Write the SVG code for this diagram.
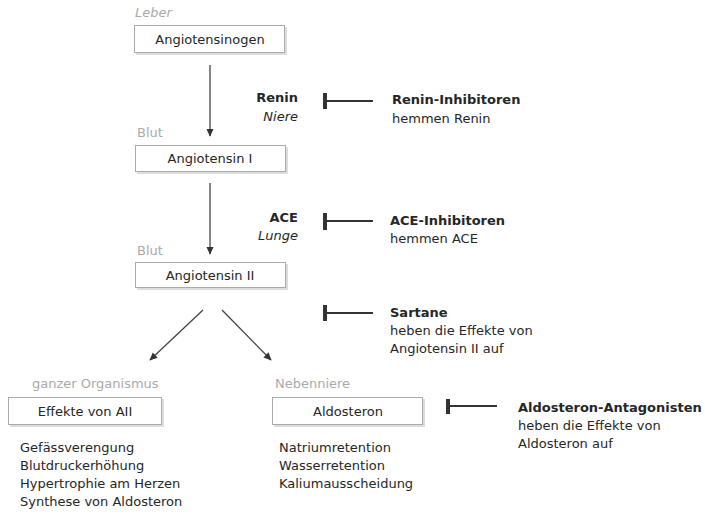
<svg xmlns="http://www.w3.org/2000/svg" width="705" height="514" viewBox="0 0 705 514">
<style>
text{font-family:"DejaVu Sans","Verdana",sans-serif;font-size:13px;fill:#262626}
.lbl{fill:#aaa}
.it{font-style:italic}
.b{font-weight:bold}
.box{fill:#fff;stroke:#aaa;stroke-width:1}
.sh{fill:#ddd}
.c{text-anchor:middle}
.r{text-anchor:end}
.ln{stroke:#444;stroke-width:1.3;fill:none}
.inh{stroke:#333;stroke-width:2;fill:none}
.bar{fill:#333}
</style>
<defs>
<marker id="ah" viewBox="0 0 10 10" refX="9" refY="5" markerWidth="8" markerHeight="9" orient="auto" markerUnits="userSpaceOnUse">
<path d="M0,0.5 L10,5 L0,9.5 z" fill="#333"/>
</marker>
</defs>
<rect width="705" height="514" fill="#fff"/>
<g id="connectors">
<line class="ln" x1="210" y1="65" x2="210" y2="136" marker-end="url(#ah)"/>
<line class="ln" x1="210" y1="183" x2="210" y2="254" marker-end="url(#ah)"/>
<line class="ln" x1="203" y1="310" x2="150" y2="360" marker-end="url(#ah)"/>
<line class="ln" x1="222" y1="310" x2="271" y2="360" marker-end="url(#ah)"/>
</g>
<g id="angiotensinogen">
<text class="lbl it" x="135" y="17">Leber</text>
<rect class="sh" x="136" y="27" width="151" height="28"/>
<rect class="box" x="134.5" y="25.5" width="150" height="27"/>
<text class="c" x="210" y="44">Angiotensinogen</text>
</g>
<g id="renin">
<text class="b r" x="298" y="102">Renin</text>
<text class="it r" x="298" y="121">Niere</text>
</g>
<g id="angiotensin1">
<text class="lbl" x="137" y="137">Blut</text>
<rect class="sh" x="137" y="147" width="151" height="27"/>
<rect class="box" x="135.5" y="145.5" width="150" height="26"/>
<text class="c" x="210" y="163">Angiotensin I</text>
</g>
<g id="ace">
<text class="b r" x="298" y="222">ACE</text>
<text class="it r" x="298" y="240">Lunge</text>
</g>
<g id="angiotensin2">
<text class="lbl" x="137" y="255">Blut</text>
<rect class="sh" x="137" y="264" width="151" height="26"/>
<rect class="box" x="135.5" y="262.5" width="150" height="25"/>
<text class="c" x="210" y="280">Angiotensin II</text>
</g>
<g id="renin-inhibitoren">
<rect class="bar" x="323" y="93" width="4" height="16"/>
<line class="inh" x1="325" y1="101" x2="373" y2="101"/>
<text class="b" x="392" y="104">Renin-Inhibitoren</text>
<text x="392" y="123">hemmen Renin</text>
</g>
<g id="ace-inhibitoren">
<rect class="bar" x="323" y="213" width="4" height="17"/>
<line class="inh" x1="325" y1="221" x2="373" y2="221"/>
<text class="b" x="390" y="225">ACE-Inhibitoren</text>
<text x="390" y="243">hemmen ACE</text>
</g>
<g id="sartane">
<rect class="bar" x="323" y="305" width="4" height="16"/>
<line class="inh" x1="325" y1="313" x2="373" y2="313"/>
<text class="b" x="390" y="317">Sartane</text>
<text x="390" y="335">heben die Effekte von</text>
<text x="390" y="353">Angiotensin II auf</text>
</g>
<g id="effekte">
<text class="lbl" x="32" y="388">ganzer Organismus</text>
<rect class="sh" x="10" y="399" width="154" height="28"/>
<rect class="box" x="8.5" y="397.5" width="153" height="27"/>
<text class="c" x="85" y="416">Effekte von AII</text>
<text x="20" y="452">Gefässverengung</text>
<text x="20" y="470">Blutdruckerhöhung</text>
<text x="20" y="488">Hypertrophie am Herzen</text>
<text x="20" y="506">Synthese von Aldosteron</text>
</g>
<g id="aldosteron">
<text class="lbl" x="275" y="388">Nebenniere</text>
<rect class="sh" x="274" y="399" width="151" height="28"/>
<rect class="box" x="272.5" y="397.5" width="150" height="27"/>
<text class="c" x="348" y="416">Aldosteron</text>
<text x="279" y="452">Natriumretention</text>
<text x="279" y="470">Wasserretention</text>
<text x="279" y="488">Kaliumausscheidung</text>
</g>
<g id="aldosteron-antagonisten">
<rect class="bar" x="446" y="399" width="4" height="15"/>
<line class="inh" x1="448" y1="406" x2="497" y2="406"/>
<text class="b" x="518" y="412">Aldosteron-Antagonisten</text>
<text x="518" y="430">heben die Effekte von</text>
<text x="518" y="448">Aldosteron auf</text>
</g>
</svg>
